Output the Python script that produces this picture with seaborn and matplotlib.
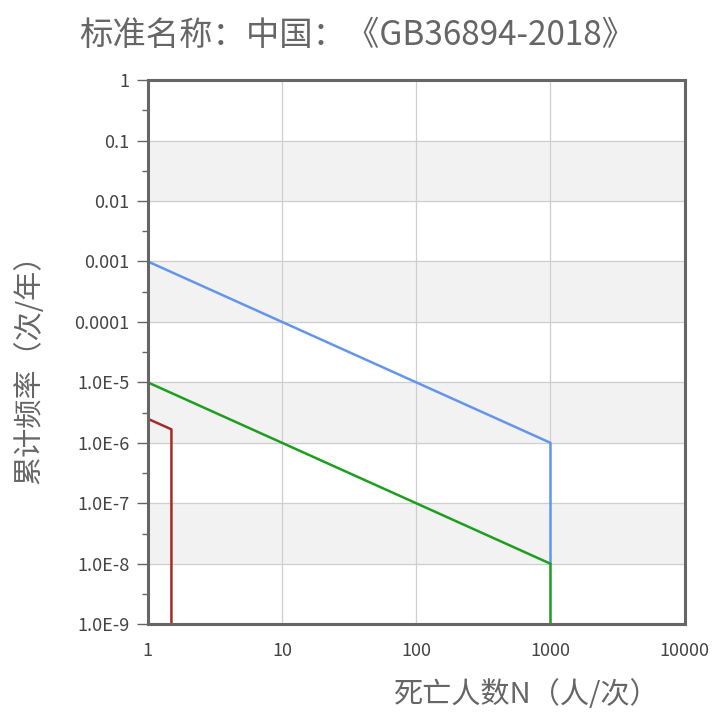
import numpy as np
import pandas as pd
import matplotlib
matplotlib.use("Agg")
import matplotlib.pyplot as plt
import seaborn as sns

"""Data"""
series_names = ["blue", "green", "red"]
blue_n = [1, 1000, 1000]
blue_f = [1e-3, 1e-6, 1e-8]
green_n = [1, 1000, 1000]
green_f = [1e-5, 1e-8, 1e-9]
red_n = [1, 1.5, 1.5]
red_f = [2.5e-6, 1.67e-6, 1e-9]

y_ticks = [1, 0.1, 0.01, 1e-3, 1e-4, 1e-5, 1e-6, 1e-7, 1e-8, 1e-9]
y_labels = ["1", "0.1", "0.01", "0.001", "0.0001",
            "1.0E-5", "1.0E-6", "1.0E-7", "1.0E-8", "1.0E-9"]
x_ticks = [1, 10, 100, 1000, 10000]
x_labels = ["1", "10", "100", "1000", "10000"]
bands = [(1e-2, 1e-1), (1e-4, 1e-3), (1e-6, 1e-5), (1e-8, 1e-7)]

title = "标准名称：中国：《GB36894-2018》"
xlabel = "死亡人数N（人/次）"
ylabel = "累计频率（次/年）"

df = pd.DataFrame({
    "N": blue_n + green_n + red_n,
    "F": blue_f + green_f + red_f,
    "s": ["blue"] * 3 + ["green"] * 3 + ["red"] * 3,
})
palette = {"blue": "#6495ED", "green": "#1E9E1E", "red": "#A52A2A"}

sns.set_style("white")
plt.rcParams["font.family"] = ["Noto Sans CJK SC", "DejaVu Sans"]

fig = plt.figure(figsize=(7.14, 7.15), dpi=100)
ax = fig.add_axes([0.207, 0.127, 0.752, 0.761])

for lo, hi in bands:
    ax.axhspan(lo, hi, color="#f2f2f2", zorder=0)

sns.lineplot(data=df, x="N", y="F", hue="s", palette=palette, estimator=None,
             sort=False, linewidth=1.8, legend=False, ax=ax, zorder=3)

ax.set_xscale("log")
ax.set_yscale("log")
ax.set_xlim(1, 10000)
ax.set_ylim(1e-9, 1)

ax.set_xticks(x_ticks)
ax.set_xticklabels(x_labels)
ax.set_yticks(y_ticks)
ax.set_yticklabels(y_labels)
ax.xaxis.set_minor_locator(matplotlib.ticker.NullLocator())
ax.set_yticks([10 ** (k + 0.5) for k in range(-9, 0)], minor=True)
ax.yaxis.set_minor_formatter(matplotlib.ticker.NullFormatter())

ax.tick_params(axis="y", which="major", length=8, width=1, color="#666666",
               labelsize=13, labelcolor="#444444", pad=5, left=True)
ax.tick_params(axis="y", which="minor", length=4, width=1, color="#666666", left=True)
ax.tick_params(axis="x", which="major", length=0, labelsize=13,
               labelcolor="#444444", pad=13)

ax.grid(True, which="major", color="#cfcfcf", linewidth=0.9, zorder=1)
ax.set_axisbelow(True)
for sp in ax.spines.values():
    sp.set_color("#666666")
    sp.set_linewidth(2.2)
    sp.set_zorder(5)

ax.set_xlabel("")
ax.set_ylabel("")
fig.text(0.5, 0.951, title, ha="center", va="center", fontsize=24, color="#666666")
fig.text(0.738, 0.028, xlabel, ha="center", va="center", fontsize=21, color="#666666")
fig.text(0.042, 0.494, ylabel, ha="center", va="center", rotation=90,
         fontsize=21, color="#666666")

fig.savefig("out.png", dpi=100)
